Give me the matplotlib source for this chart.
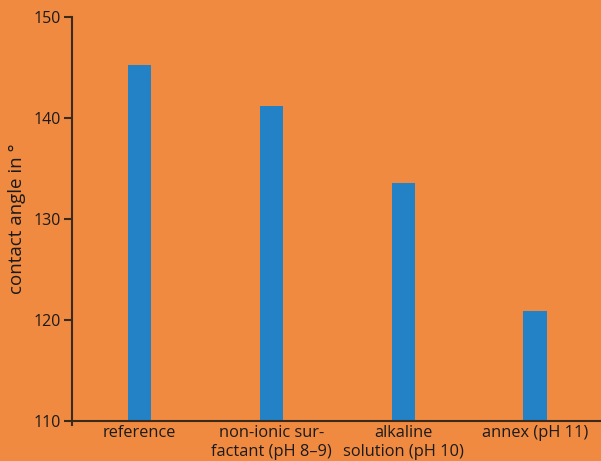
import numpy as np
import matplotlib.pyplot as plt

plt.rcParams['font.family'] = ['Open Sans', 'DejaVu Sans']

categories = ["reference", "non-ionic sur-\nfactant (pH 8\u20139)",
              "alkaline\nsolution (pH 10)", "annex (pH 11)"]
angles = [145.2, 141.2, 133.6, 120.9]
yticks = [110, 120, 130, 140, 150]

bg = '#F08A40'
bar_color = '#2381C6'
dark = '#3A2A1C'

fig = plt.figure(figsize=(6.01, 4.61), dpi=100, facecolor=bg)
ax = fig.add_axes([72 / 601, 1 - 421 / 461, 1 - 72 / 601, (421 - 17) / 461])
ax.set_facecolor(bg)

x = np.arange(len(categories))
ax.bar(x, angles, width=0.175, color=bar_color, bottom=0)

ax.set_xlim(-0.51, 3.5)
ax.set_ylim(110, 150)
ax.set_yticks(yticks)
ax.set_xticks(x)
ax.set_xticklabels(categories, fontsize=11.8, color='#1a1a1a', linespacing=1.2)
ax.tick_params(axis='x', length=0, pad=3)
ax.tick_params(axis='y', length=6, width=1.5, color=dark, labelsize=11.5,
               labelcolor='#1a1a1a', pad=2)

for s in ['top', 'right']:
    ax.spines[s].set_visible(False)
for s in ['left', 'bottom']:
    ax.spines[s].set_color(dark)
    ax.spines[s].set_linewidth(1.5)
ax.spines['left'].set_bounds(109.6, 150)

ax.set_ylabel("contact angle in \u00b0", fontsize=13.5, color='#1a1a1a')
ax.yaxis.set_label_coords(-0.087, 0.5)

fig.savefig('out.png', dpi=100, facecolor=bg)
